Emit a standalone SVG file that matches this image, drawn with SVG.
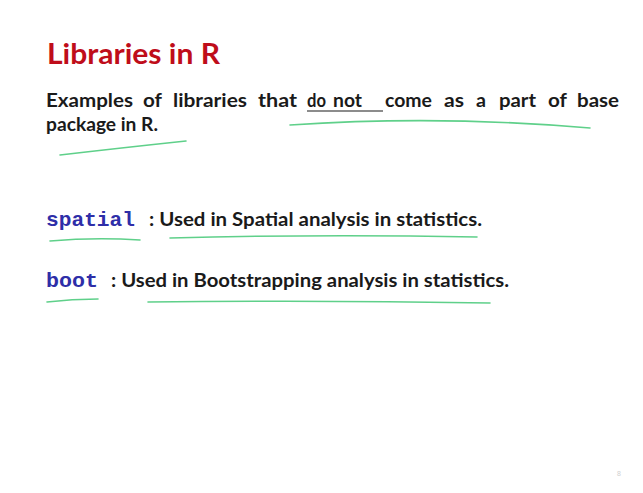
<svg xmlns="http://www.w3.org/2000/svg" width="643" height="493" viewBox="0 0 643 493">
<style>
.t{font-family:Lato,"Open Sans","Liberation Sans",sans-serif;font-weight:bold;fill:#1a1a1a;font-size:19px}
.s{font-family:Lato,"Open Sans","Liberation Sans",sans-serif;font-weight:bold;fill:#1a1a1a;font-size:18px}
.c{font-family:"Liberation Mono","DejaVu Sans Mono",monospace;font-weight:bold;fill:#2e2ea8;font-size:21px}
.g{fill:none;stroke:#5fd08a;stroke-width:1.6;stroke-linecap:round}
</style>
<rect width="643" height="493" fill="#ffffff"/>
<g id="title">
<text x="47" y="64" textLength="173" lengthAdjust="spacingAndGlyphs" style="font-family:Lato,'Open Sans','Liberation Sans',sans-serif;font-weight:bold;font-size:29px;fill:#bf0d1a">Libraries in R</text>
</g>
<g id="intro">
<text class="t" x="46" y="107" textLength="87" lengthAdjust="spacingAndGlyphs">Examples</text>
<text class="t" x="143" y="107" textLength="19" lengthAdjust="spacingAndGlyphs">of</text>
<text class="t" x="173" y="107" textLength="74" lengthAdjust="spacingAndGlyphs">libraries</text>
<text class="t" x="258" y="107" textLength="39" lengthAdjust="spacingAndGlyphs">that</text>
<text class="t" x="307" y="107" textLength="19" lengthAdjust="spacingAndGlyphs">do</text>
<text class="t" x="333" y="107" textLength="29" lengthAdjust="spacingAndGlyphs">not</text>
<text class="t" x="385" y="107" textLength="47" lengthAdjust="spacingAndGlyphs">come</text>
<text class="t" x="444" y="107" textLength="20" lengthAdjust="spacingAndGlyphs">as</text>
<text class="t" x="476" y="107" textLength="10" lengthAdjust="spacingAndGlyphs">a</text>
<text class="t" x="499" y="107" textLength="37" lengthAdjust="spacingAndGlyphs">part</text>
<text class="t" x="548" y="107" textLength="19" lengthAdjust="spacingAndGlyphs">of</text>
<text class="t" x="577" y="107" textLength="42" lengthAdjust="spacingAndGlyphs">base</text>
<line x1="307" y1="111" x2="383" y2="111" stroke="#1a1a1a" stroke-width="1.2"/>
<text class="t" x="46" y="131" textLength="112" lengthAdjust="spacingAndGlyphs">package in R.</text>
</g>
<g id="spatial">
<text class="c" x="46" y="226" textLength="89" lengthAdjust="spacingAndGlyphs">spatial</text>
<text class="s" x="149" y="226" textLength="333" lengthAdjust="spacingAndGlyphs">: Used in Spatial analysis in statistics.</text>
</g>
<g id="boot">
<text class="c" x="46" y="287" textLength="52" lengthAdjust="spacingAndGlyphs">boot</text>
<text class="s" x="111" y="287" textLength="398" lengthAdjust="spacingAndGlyphs">: Used in Bootstrapping analysis in statistics.</text>
</g>
<g id="annotations">
<path class="g" d="M60 155 Q120 148 186 141"/>
<path class="g" d="M290 125 Q440 115 590 128"/>
<path class="g" d="M50 241 Q95 237 140 240"/>
<path class="g" d="M170 238 Q320 234 477 237"/>
<path class="g" d="M47 302 Q72 299 98 299"/>
<path class="g" d="M148 302 Q320 300 490 303"/>
</g>
<text x="617" y="476" style="font-family:'Liberation Sans',sans-serif;font-size:7px;fill:#d0d0d0">8</text>
</svg>
